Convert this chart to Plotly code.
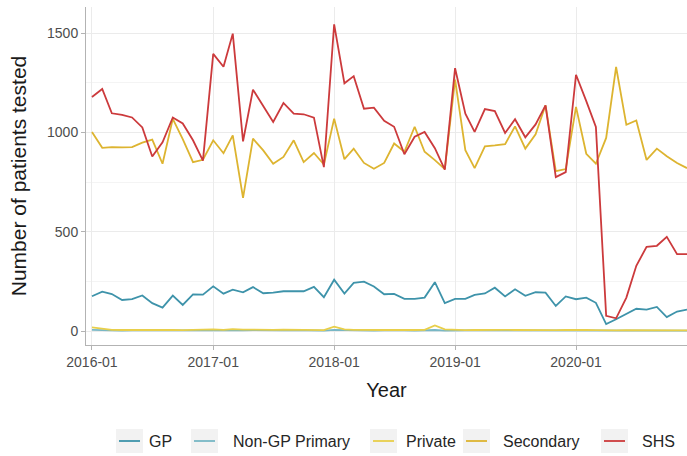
import pandas as pd
import plotly.graph_objects as go

# Monthly series, January 2016 to December 2020
months = pd.date_range("2016-01-01", "2020-12-01", freq="MS")

gp = [175, 198, 186, 156, 160, 179, 140, 118, 178, 131, 184, 183,
      225, 188, 208, 195, 221, 190, 193, 200, 200, 200, 222, 170,
      258, 188, 242, 248, 224, 185, 187, 162, 162, 168, 246, 140,
      162, 162, 182, 189, 218, 174, 210, 177, 195, 193, 126, 174,
      160, 168, 142, 35, 59, 87, 112, 108, 121, 70, 98, 108]

non_gp_primary = [6, 4, 3, 2, 3, 4, 2, 3, 3, 2, 4, 3,
                  4, 3, 5, 3, 4, 3, 2, 3, 4, 3, 3, 2,
                  6, 4, 3, 3, 2, 3, 4, 3, 2, 3, 5, 2,
                  3, 2, 3, 4, 3, 3, 2, 3, 4, 3, 2, 3,
                  3, 2, 3, 1, 1, 2, 2, 3, 2, 2, 3, 2]

private = [18, 10, 6, 5, 4, 5, 6, 4, 5, 4, 6, 5,
           8, 6, 9, 7, 6, 5, 6, 7, 6, 5, 7, 4,
           22, 8, 6, 5, 4, 5, 6, 4, 5, 6, 28, 8,
           5, 4, 5, 6, 5, 6, 5, 4, 6, 5, 4, 5,
           6, 5, 4, 2, 3, 4, 4, 5, 4, 3, 4, 3]

secondary = [1002, 922, 926, 924, 926, 948, 963, 842, 1068, 966, 850, 862,
             960, 895, 985, 670, 968, 909, 842, 876, 960, 850, 896, 838,
             1069, 865, 918, 846, 817, 846, 944, 902, 1028, 902, 860, 815,
             1265, 910, 820, 930, 934, 941, 1030, 918, 990, 1136, 805, 815,
             1128, 892, 842, 972, 1329, 1038, 1060, 861, 918, 880, 846, 820]

shs = [1178, 1218, 1096, 1088, 1075, 1025, 878, 950, 1075, 1045, 960, 858,
       1395, 1330, 1497, 955, 1215, 1130, 1052, 1148, 1094, 1091, 1074, 825,
       1544, 1247, 1283, 1119, 1124, 1058, 1028, 890, 978, 1002, 920, 812,
       1323, 1094, 1002, 1117, 1107, 997, 1066, 975, 1040, 1136, 775, 800,
       1290, 1157, 1027, 76, 64, 168, 328, 424, 429, 474, 387, 387]

series_names = ["GP", "Non-GP Primary", "Private", "Secondary", "SHS"]
series_values = [gp, non_gp_primary, private, secondary, shs]
series_colors = ["#3E93AA", "#78B7C5", "#E8CF4A", "#DDB430", "#CC3A3C"]

W, H = 687, 456
PLOT_L, PLOT_R, PLOT_T, PLOT_B = 86, 687, 7, 345

fig = go.Figure()
for name, values, color in zip(series_names, series_values, series_colors):
    fig.add_trace(go.Scatter(
        x=months, y=values, mode="lines", name=name,
        line=dict(color=color, width=1.8),
    ))


def px_x(px):
    return (px - PLOT_L) / (PLOT_R - PLOT_L)


def px_y(py):
    return (PLOT_B - py) / (PLOT_B - PLOT_T)


# ggplot-style legend below the panel: grey key boxes with a short line
legend_y = 441
key_w, key_h = 27, 24
key_left = [116, 191, 370, 463, 601]
label_left = [147, 231, 404, 501, 640]
for name, color, kx, tx in zip(series_names, series_colors, key_left, label_left):
    fig.add_shape(type="rect", xref="paper", yref="paper",
                  x0=px_x(kx), x1=px_x(kx + key_w),
                  y0=px_y(legend_y + key_h / 2), y1=px_y(legend_y - key_h / 2),
                  fillcolor="#F2F2F2", line=dict(width=0), layer="above")
    fig.add_shape(type="line", xref="paper", yref="paper",
                  x0=px_x(kx + 3), x1=px_x(kx + key_w - 3),
                  y0=px_y(legend_y), y1=px_y(legend_y),
                  line=dict(color=color, width=1.8), layer="above")
    fig.add_annotation(text=name, xref="paper", yref="paper",
                       x=px_x(tx), y=px_y(legend_y), xanchor="left", yanchor="middle",
                       showarrow=False, font=dict(size=16, color="#262626"))

font_family = "Liberation Sans, Arial, sans-serif"
grid = "#EBEBEB"
axis_line = "#B3B3B3"

fig.update_layout(
    width=W, height=H,
    margin=dict(l=PLOT_L, r=W - PLOT_R, t=PLOT_T, b=H - PLOT_B),
    plot_bgcolor="white", paper_bgcolor="white",
    font=dict(family=font_family, size=14, color="#4D4D4D"),
    showlegend=False,
)

fig.update_xaxes(
    type="date",
    range=["2015-12-14", "2020-12-01"],
    tick0="2016-01-01", dtick="M12", tickformat="%Y-%m",
    showgrid=True, gridcolor=grid, gridwidth=1,
    showline=True, linecolor=axis_line, linewidth=1,
    ticks="outside", ticklen=4, tickcolor=axis_line,
    tickfont=dict(size=14, color="#4D4D4D"),
    title=dict(text="Year", font=dict(size=20, color="#1A1A1A"), standoff=14),
    zeroline=False,
)

fig.update_yaxes(
    range=[-70.5, 1631],
    tickvals=[0, 500, 1000, 1500],
    showgrid=True, gridcolor=grid, gridwidth=1,
    minor=dict(tickvals=[250, 750, 1250], showgrid=True, gridcolor="#F4F4F4", ticks=""),
    showline=True, linecolor=axis_line, linewidth=1,
    ticks="outside", ticklen=4, tickcolor=axis_line,
    tickfont=dict(size=14, color="#4D4D4D"),
    title=dict(text="Number of patients tested", font=dict(size=21, color="#1A1A1A"), standoff=14),
    zeroline=False,
)

fig.write_html("out.html")
